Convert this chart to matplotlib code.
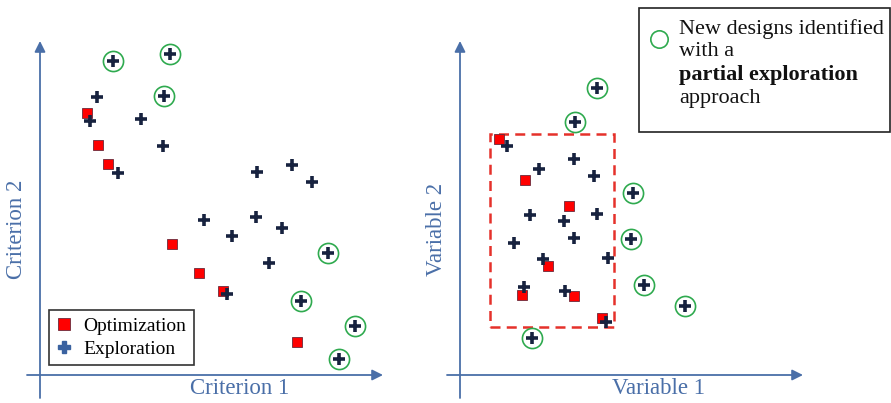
import matplotlib
matplotlib.use("Agg")
import matplotlib.pyplot as plt
from matplotlib.lines import Line2D
from matplotlib.patches import Rectangle

# ---------------- data ----------------
# Left panel: Criterion 1 (x) vs Criterion 2 (y)
crit_opt_x = [47, 58, 68, 132, 159, 183, 257]
crit_opt_y = [262, 230, 211, 131, 102, 84, 33]
crit_exp_x = [57, 50, 101, 123, 78, 217, 252, 272, 164, 216, 192, 242, 229, 187]
crit_exp_y = [278, 254, 256, 229, 202, 203, 210, 193, 155, 158, 139, 147, 112, 81]
crit_new_x = [73, 130, 124, 288, 261, 315, 299]
crit_new_y = [314, 321, 279, 122, 74, 49, 16]

# Right panel: Variable 1 (x) vs Variable 2 (y)
var_opt_x = [39, 65, 109, 88, 62, 114, 142]
var_opt_y = [236, 195, 169, 109, 80, 79, 57]
var_exp_x = [47, 114, 79, 134, 70, 137, 104, 114, 54, 83, 148, 64, 105, 146]
var_exp_y = [229, 216, 206, 199, 160, 161, 154, 137, 132, 116, 117, 88, 84, 53]
var_new_x = [137, 115, 173, 171, 184, 225, 72]
var_new_y = [287, 253, 182, 136, 90, 69, 37]

# explored region (dashed box) in variable space
box_x = [30, 154]
box_y = [48, 241]

axis_labels = ["Criterion 1", "Criterion 2", "Variable 1", "Variable 2"]
legend_labels = ["Optimization", "Exploration"]
note_lines = ["New designs identified", "with a", "partial exploration", "approach"]

# ---------------- style ----------------
W, H = 891, 403
AXC = "#4a6fa8"
CROSS = "#17223f"
RED = "#ff0000"
GREEN = "#2faa4f"
SERIF = ["Liberation Serif", "DejaVu Serif"]

fig = plt.figure(figsize=(W / 100, H / 100), dpi=100)


def px(x, y):
    return x / W, 1 - y / H


ax1 = fig.add_axes([0, 0, 0.5, 1])
ax2 = fig.add_axes([0.5, 0, 0.5, 1])
ax1.set_xlim(-40, 405.5)
ax2.set_xlim(-14.5, 431)
for ax in (ax1, ax2):
    ax.set_ylim(-28, 375)
    ax.axis("off")
    # axes with arrows
    ax.annotate("", xy=(0, 334), xytext=(0, -23),
                arrowprops=dict(arrowstyle="-|>", color=AXC, lw=1.3,
                                mutation_scale=16, shrinkA=0, shrinkB=0))
    ax.annotate("", xy=(343, 0), xytext=(-13, 0),
                arrowprops=dict(arrowstyle="-|>", color=AXC, lw=1.3,
                                mutation_scale=16, shrinkA=0, shrinkB=0))


def draw(ax, ox, oy, ex, ey, nx, ny):
    ax.plot(ox, oy, ls="none", marker="s", ms=7.8, mfc=RED, mec="#6a2a3a",
            mew=0.6, zorder=3)
    ax.plot(ex + nx, ey + ny, ls="none", marker="+", ms=8.2, mew=2.6,
            color=CROSS, zorder=4)
    ax.plot(nx, ny, ls="none", marker="o", ms=14.5, mfc="none", mec=GREEN,
            mew=1.2, zorder=5)


draw(ax1, crit_opt_x, crit_opt_y, crit_exp_x, crit_exp_y, crit_new_x, crit_new_y)
draw(ax2, var_opt_x, var_opt_y, var_exp_x, var_exp_y, var_new_x, var_new_y)

ax2.add_patch(Rectangle((box_x[0], box_y[0]), box_x[1] - box_x[0],
                        box_y[1] - box_y[0], fill=False, ec="#e5312b",
                        lw=1.8, ls=(0, (4, 2.5)), zorder=2))

# axis labels
lab_fs = 16.5
fig.text(*px(240, 389), axis_labels[0], color=AXC, fontsize=lab_fs,
         family=SERIF, ha="center", va="center")
fig.text(*px(17, 229), axis_labels[1], color=AXC, fontsize=lab_fs,
         family=SERIF, ha="center", va="center", rotation=90)
fig.text(*px(658, 389), axis_labels[2], color=AXC, fontsize=lab_fs,
         family=SERIF, ha="center", va="center")
fig.text(*px(437, 229), axis_labels[3], color=AXC, fontsize=lab_fs,
         family=SERIF, ha="center", va="center", rotation=90)

# left legend
handles = [
    Line2D([], [], ls="none", marker="s", ms=8, mfc=RED, mec="#6a2a3a", mew=0.6),
    Line2D([], [], ls="none", marker="P", ms=8.5, mfc="#3a62a0", mec="#3a62a0"),
]
leg = ax1.legend(handles, legend_labels, loc="upper left",
                 bbox_to_anchor=px(49, 310), bbox_transform=fig.transFigure,
                 borderaxespad=0, frameon=True, fancybox=False,
                 edgecolor="#333333", framealpha=1,
                 prop=dict(family=SERIF, size=14), handlelength=0.8,
                 handletextpad=0.6, labelspacing=0.28, borderpad=0.38)
leg.get_frame().set_linewidth(1.2)

# right note box
fig.add_artist(Rectangle(px(639, 132), (890 - 639) / W, (132 - 8) / H,
                         transform=fig.transFigure, fill=False,
                         ec="#222222", lw=1.2))
fig.add_artist(Line2D([659 / W], [1 - 39 / H], transform=fig.transFigure,
                      ls="none", marker="o", ms=12.5, mfc="none",
                      mec=GREEN, mew=1.2))
ys = [29, 52, 75, 98]
for i, (t, y) in enumerate(zip(note_lines, ys)):
    fig.text(*px(679, y), t, fontsize=16, family=SERIF, ha="left",
             va="center", color="#111111",
             weight="bold" if i == 2 else "normal")

fig.savefig("out.png", dpi=100)
